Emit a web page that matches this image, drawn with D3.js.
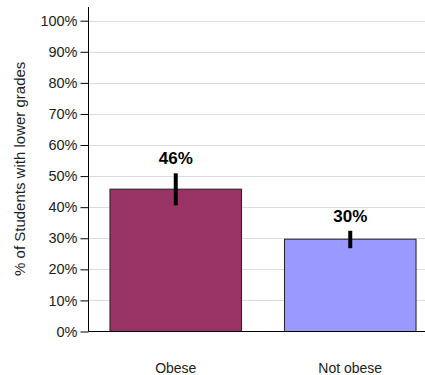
<!DOCTYPE html>
<html>
<head>
<meta charset="utf-8">
<script src="https://cdn.jsdelivr.net/npm/d3@7"></script>
<style>
  html, body { margin: 0; padding: 0; background: #fff; }
  svg { display: block; font-family: "Liberation Sans", Arial, sans-serif; }
</style>
</head>
<body>
<svg id="chart" width="425" height="375"></svg>
<script>
const categories = ["Obese", "Not obese"];
const values = [45.8, 29.7];
const errLow = [40.6, 26.8];
const errHigh = [50.9, 32.4];
const valueLabels = ["46%", "30%"];
const yTicks = [0, 10, 20, 30, 40, 50, 60, 70, 80, 90, 100];
const colors = ["#993366", "#9999ff"];
const yTitle = "% of Students with lower grades";

const svg = d3.select("#chart");
const W = 425;
const x0 = 88.5, yBottom = 331.5, yTop = 20.7;

const y = d3.scaleLinear().domain([0, 100]).range([yBottom, yTop]);
const x = d3.scaleBand().domain(categories).range([x0, 437.5])
  .paddingInner(0.246).paddingOuter(0.123);

// gridlines
svg.append("g").selectAll("line").data(yTicks.filter(d => d > 0)).join("line")
  .attr("x1", x0).attr("x2", W)
  .attr("y1", d => Math.round(y(d)) + 0.5).attr("y2", d => Math.round(y(d)) + 0.5)
  .attr("stroke", "#dcdcdc").attr("stroke-width", 1);

// bars
svg.append("g").selectAll("rect").data(categories).join("rect")
  .attr("x", d => x(d))
  .attr("y", (d, i) => y(values[i]))
  .attr("width", x.bandwidth())
  .attr("height", (d, i) => yBottom - y(values[i]))
  .attr("fill", (d, i) => colors[i])
  .attr("stroke", "#222").attr("stroke-width", 1);

// y axis
const yAxis = d3.axisLeft(y).tickValues(yTicks).tickFormat(d => d + "%")
  .tickSize(8).tickPadding(3);
const gy = svg.append("g").attr("transform", `translate(${x0},0)`).call(yAxis);
gy.select(".domain").remove();
gy.selectAll(".tick line").attr("stroke", "#000");
gy.selectAll(".tick text").attr("font-size", 14.5).attr("fill", "#222")
  .attr("font-family", '"Liberation Sans", Arial, sans-serif');
svg.append("line").attr("x1", x0).attr("x2", x0).attr("y1", 7).attr("y2", yBottom)
  .attr("stroke", "#000").attr("stroke-width", 1);
// x baseline
svg.append("line").attr("x1", x0).attr("x2", W).attr("y1", yBottom).attr("y2", yBottom)
  .attr("stroke", "#000").attr("stroke-width", 1);

// error bars
svg.append("g").selectAll("line").data(categories).join("line")
  .attr("x1", d => x(d) + x.bandwidth() / 2).attr("x2", d => x(d) + x.bandwidth() / 2)
  .attr("y1", (d, i) => y(errHigh[i])).attr("y2", (d, i) => y(errLow[i]))
  .attr("stroke", "#000").attr("stroke-width", 4);

// value labels
svg.append("g").selectAll("text").data(categories).join("text")
  .attr("x", d => x(d) + x.bandwidth() / 2)
  .attr("y", (d, i) => y(errHigh[i]) - 9)
  .attr("text-anchor", "middle").attr("font-size", 17).attr("font-weight", "bold")
  .attr("fill", "#000")
  .text((d, i) => valueLabels[i]);

// category labels
svg.append("g").selectAll("text").data(categories).join("text")
  .attr("x", d => x(d) + x.bandwidth() / 2)
  .attr("y", 373)
  .attr("text-anchor", "middle").attr("font-size", 14).attr("fill", "#222")
  .text(d => d);

// y title
svg.append("text")
  .attr("transform", `translate(25,168.8) rotate(-90)`)
  .attr("text-anchor", "middle").attr("font-size", 15).attr("fill", "#222")
  .text(yTitle);
</script>
</body>
</html>
